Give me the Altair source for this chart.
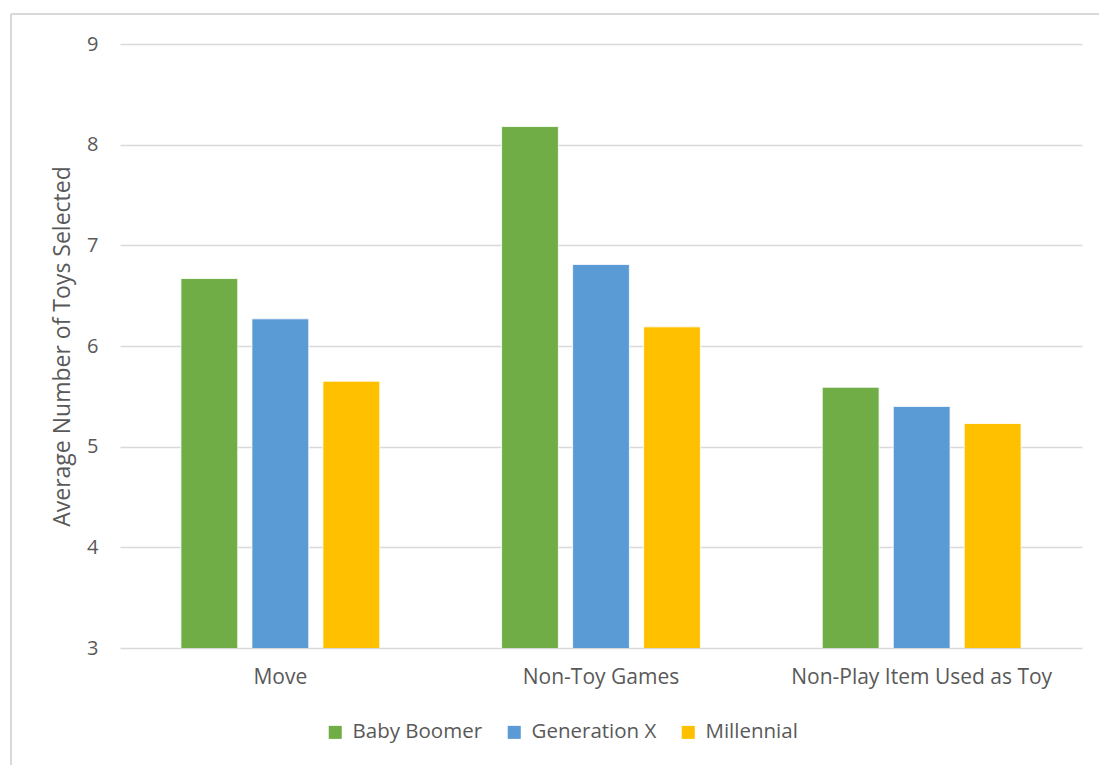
import altair as alt
import pandas as pd

categories = ["Move", "Non-Toy Games", "Non-Play Item Used as Toy"]
generations = ["Baby Boomer", "Generation X", "Millennial"]
baby_boomer = [6.67, 8.18, 5.59]
generation_x = [6.27, 6.81, 5.40]
millennial = [5.65, 6.19, 5.23]
colors = ["#70ad47", "#5b9bd5", "#ffc000"]
y_ticks = [3, 4, 5, 6, 7, 8, 9]

rows = []
for series, vals in zip(generations, [baby_boomer, generation_x, millennial]):
    for c, v in zip(categories, vals):
        rows.append({"Category": c, "Generation": series, "Value": v})
df = pd.DataFrame(rows)

FONT = "Open Sans"
TXT = "#595959"
GRID = "#d9d9d9"

bars = alt.Chart(df).mark_bar(stroke="white", strokeWidth=0.8, clip=True).encode(
    x=alt.X("Category:N", sort=categories,
            scale=alt.Scale(paddingInner=0.38, paddingOuter=0.19),
            axis=alt.Axis(title=None, labelAngle=0, labelFontSize=21, labelColor=TXT,
                          labelFont=FONT, labelPadding=18, labelLimit=500,
                          ticks=False, domain=False, grid=False)),
    xOffset=alt.XOffset("Generation:N", sort=generations,
                        scale=alt.Scale(paddingInner=0.2, paddingOuter=0)),
    y=alt.Y("Value:Q", scale=alt.Scale(domain=[3, 9], nice=False, zero=False),
            axis=alt.Axis(title="Average Number of Toys Selected", values=y_ticks,
                          labelFontSize=20, labelColor=TXT, labelFont=FONT,
                          labelPadding=22, ticks=False, domain=False,
                          gridColor=GRID, gridWidth=1.5,
                          titleFontSize=23, titleFont=FONT, titleColor=TXT,
                          titleFontWeight="normal", titleAngle=270,
                          titleX=-58, titleY=302, titleAlign="center",
                          titleBaseline="middle", titleLimit=800)),
    color=alt.Color("Generation:N", sort=generations,
                    scale=alt.Scale(domain=generations, range=colors),
                    legend=alt.Legend(title=None, orient="none", direction="horizontal",
                                      legendX=205, legendY=678,
                                      symbolType="square", symbolSize=170,
                                      symbolStrokeWidth=0,
                                      labelFontSize=20.5, labelColor=TXT, labelFont=FONT,
                                      labelOffset=7, columnPadding=21)),
)

border_top = alt.Chart(df).mark_rule(color=GRID, strokeWidth=2).encode(
    x=alt.value(-109), x2=alt.value(1000), y=alt.value(-30))
border_left = alt.Chart(df).mark_rule(color=GRID, strokeWidth=2).encode(
    x=alt.value(-109), y=alt.value(-30), y2=alt.value(740))

chart = alt.layer(border_top, border_left, bars).properties(
    width=962, height=604,
    autosize=alt.AutoSizeParams(type="none"),
    padding={"left": 120, "top": 44, "right": 17, "bottom": 117},
    background="white",
).configure_view(stroke=None)

chart.save("out.html", embed_options={"renderer": "svg", "actions": False})
